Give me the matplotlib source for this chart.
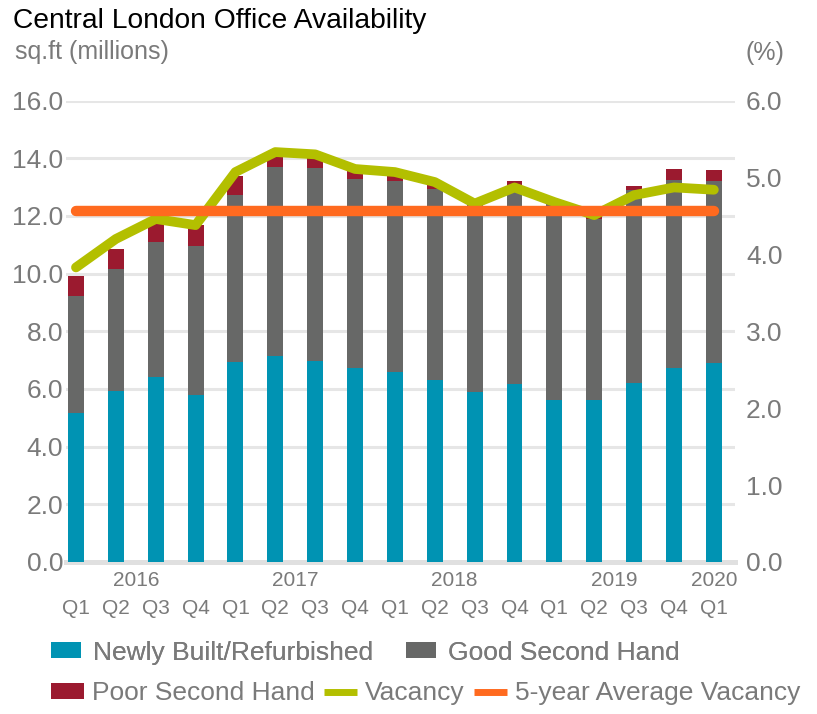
import numpy as np
import matplotlib
matplotlib.use('Agg')
import matplotlib.pyplot as plt
from matplotlib.legend_handler import HandlerLine2D

plt.rcParams['font.family'] = ['Liberation Sans', 'DejaVu Sans']

# data
quarters = ['Q1', 'Q2', 'Q3', 'Q4'] * 4 + ['Q1']
years = [2016] * 4 + [2017] * 4 + [2018] * 4 + [2019] * 4 + [2020]
newly_built = [5.15, 5.93, 6.40, 5.78, 6.92, 7.13, 6.97, 6.72, 6.60,
               6.30, 5.88, 6.17, 5.62, 5.62, 6.20, 6.72, 6.90]
good_second = [4.07, 4.24, 4.70, 5.18, 5.81, 6.55, 6.69, 6.56, 6.62,
               6.62, 6.54, 6.78, 6.88, 6.26, 6.70, 6.53, 6.32]
poor_second = [0.69, 0.68, 0.72, 0.72, 0.64, 0.50, 0.45, 0.28, 0.20,
               0.20, 0.08, 0.25, 0.05, 0.27, 0.13, 0.38, 0.38]
vacancy = [3.83, 4.20, 4.46, 4.38, 5.07, 5.33, 5.30, 5.11, 5.07,
           4.94, 4.66, 4.87, 4.68, 4.51, 4.77, 4.87, 4.84]
avg_vacancy = 4.57

left_ticks = np.arange(0, 17, 2)
right_ticks = np.arange(0, 7, 1)

c_blue = '#0093b3'
c_grey = '#676867'
c_red = '#9b1a2f'
c_green = '#b3bf00'
c_orange = '#ff6a1f'
c_text = '#7a7a7a'
c_grid = '#e6e6e6'

x = np.arange(len(quarters))
nb = np.array(newly_built)
gs = np.array(good_second)
ps = np.array(poor_second)

fig = plt.figure(figsize=(8.17, 7.14), dpi=100)
ax = fig.add_axes([0.0808, 0.2129, 0.8188, 0.6463])
ax2 = ax.twinx()

w = 0.4
b1 = ax.bar(x, nb, w, color=c_blue, zorder=3, label='Newly Built/Refurbished')
b2 = ax.bar(x, gs, w, bottom=nb, color=c_grey, zorder=3, label='Good Second Hand')
b3 = ax.bar(x, ps, w, bottom=nb + gs, color=c_red, zorder=3, label='Poor Second Hand')

l1, = ax2.plot(x, vacancy, color=c_green, lw=7, solid_joinstyle='round',
               solid_capstyle='round', zorder=4, label='Vacancy')
l2, = ax2.plot(x, [avg_vacancy] * len(x), color=c_orange, lw=7.5,
               solid_capstyle='round', zorder=5, label='5-year Average Vacancy')

ax.set_xlim(-0.25, 16.53)
ax.set_ylim(0, 16)
ax2.set_ylim(0, 6)

ax.set_yticks(left_ticks, [f'{v:.1f}' for v in left_ticks])
ax2.set_yticks(right_ticks, [f'{v:.1f}' for v in right_ticks])
ax.set_xticks(x, quarters)

ax.grid(axis='y', color=c_grid, lw=2.2, zorder=0)
ax.set_axisbelow(True)
for a in (ax, ax2):
    for s in a.spines.values():
        s.set_visible(False)
ax.spines['bottom'].set_visible(True)
ax.spines['bottom'].set_color('#e0e0e0')
ax.spines['bottom'].set_linewidth(3.6)

ax.tick_params(axis='y', length=0, pad=2, labelsize=19, labelcolor=c_text)
ax2.tick_params(axis='y', length=0, pad=8, labelsize=19, labelcolor=c_text)
ax.tick_params(axis='x', length=0, pad=27, labelsize=15, labelcolor=c_text)

# year labels centred under their quarters
for yr in sorted(set(years)):
    pos = np.mean([i for i, v in enumerate(years) if v == yr])
    ax.annotate(str(yr), xy=(pos, 0), xycoords=('data', 'axes fraction'),
                xytext=(0, -13), textcoords='offset points',
                ha='center', va='center', fontsize=15, color=c_text)

fig.text(0.016, 0.9608, 'Central London Office Availability', fontsize=20.3,
         color='black', va='baseline')
fig.text(0.018, 0.918, 'sq.ft (millions)', fontsize=18, color=c_text, va='baseline')
fig.text(0.912, 0.916, '(%)', fontsize=18, color=c_text, va='baseline')


def flat_line(handle, orig):
    handle.update_from(orig)
    handle.set_linewidth(5)
    handle.set_solid_capstyle('butt')


leg1 = fig.legend(handles=[b1, b2], loc='center left', bbox_to_anchor=(0.0624, 0.086),
                  ncol=2, frameon=False, fontsize=19, labelcolor=c_text,
                  handlelength=1.14, handleheight=0.55, handletextpad=0.45,
                  columnspacing=1.25, borderpad=0, borderaxespad=0)
fig.legend(handles=[b3, l1, l2], loc='center left', bbox_to_anchor=(0.0624, 0.029),
           ncol=3, frameon=False, fontsize=19, labelcolor=c_text,
           handlelength=1.25, handleheight=0.55, handletextpad=0.3,
           columnspacing=0.35, borderpad=0, borderaxespad=0,
           handler_map={l1: HandlerLine2D(update_func=flat_line),
                        l2: HandlerLine2D(update_func=flat_line)})
fig.add_artist(leg1)

fig.savefig('out.png', dpi=100)
